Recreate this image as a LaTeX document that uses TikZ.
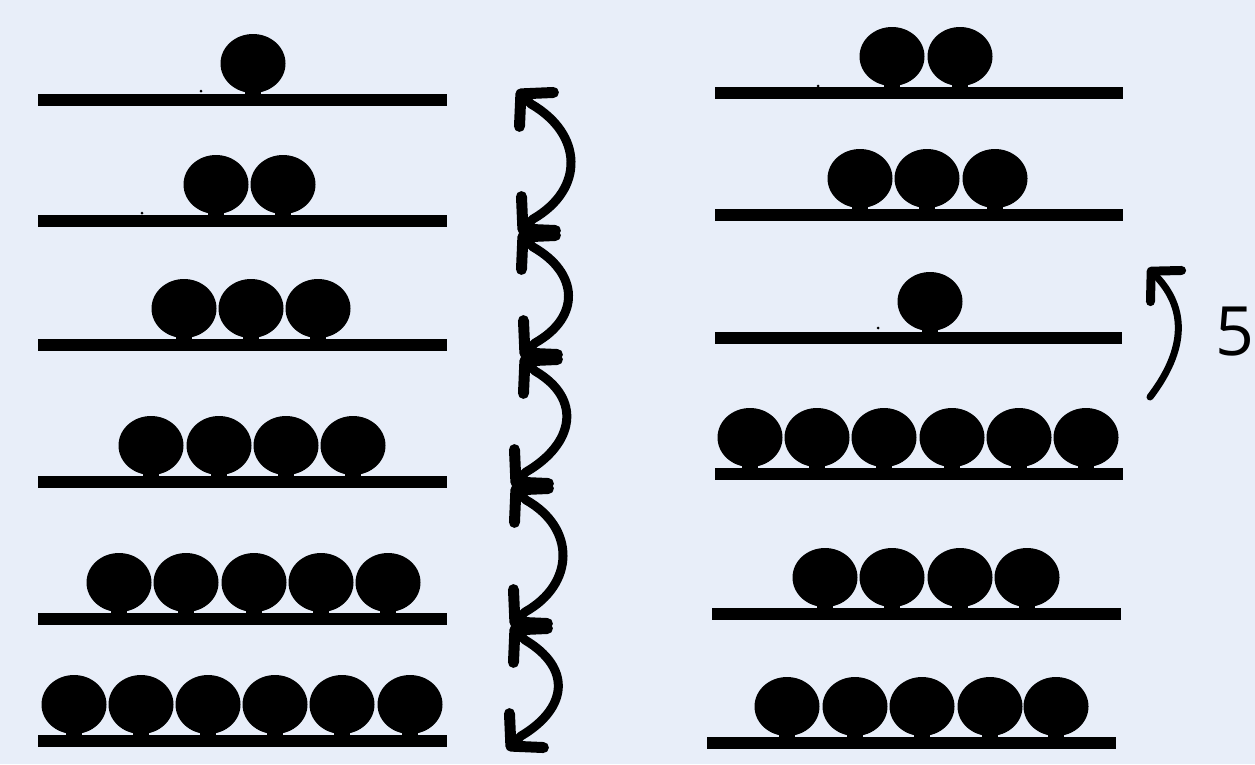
\documentclass[tikz,border=0pt]{standalone}
\usepackage{fontspec}
\newfontfamily\labelfont{Open Sans}
\usetikzlibrary{arrows.meta}
\definecolor{bg}{RGB}{232,238,249}
\begin{document}
\begin{tikzpicture}[x=1pt,y=-1pt,
  shelfbar/.style={fill=black},
  ballshape/.style={fill=black},
  speck/.style={fill=black},
  barb/.tip={Straight Barb[length=22pt,width=48pt,line width=11pt 0,round]},
  smallbarb/.tip={Straight Barb[length=21pt,width=44pt,line width=9pt 0,round]},
  swing/.style={line width=9pt,line cap=round,line join=round,barb-barb},
  turn/.style={line width=7pt,line cap=round,-smallbarb},
  numlabel/.style={font=\labelfont\fontsize{68}{68}\selectfont,inner sep=0pt}]
\fill[bg] (0,0) rectangle (1255,764);
\useasboundingbox (0,0) rectangle (1255,764);
% left column
\foreach \yy/\bl in {100/{253},221/{216,283},345/{184,251,318},482/{151,219,286,353},619/{119,186,254,321,388},741/{74,141,208,275,342,410}}{
  \fill[shelfbar] (38,\yy-6) rectangle (447,\yy+6);
  \foreach \xx in \bl {
    \fill[ballshape] (\xx,\yy-36.5) ellipse [x radius=32.5pt, y radius=29.5pt];
    \fill[ballshape] (\xx-8,\yy-10) rectangle (\xx+8,\yy);
  }
}
% right column
\foreach \yy/\xa/\xb/\bl in {93/715/1123/{892,960},215/715/1123/{860,927,995},338/715/1122/{930},474/715/1123/{750,817,884,952,1019,1086},614/712/1121/{825,892,960,1027},743/707/1116/{787,855,922,990,1056}}{
  \fill[shelfbar] (\xa,\yy-6) rectangle (\xb,\yy+6);
  \foreach \xx in \bl {
    \fill[ballshape] (\xx,\yy-36.5) ellipse [x radius=32.5pt, y radius=29.5pt];
    \fill[ballshape] (\xx-8,\yy-10) rectangle (\xx+8,\yy);
  }
}
% specks
\fill[speck] (201,91) circle [radius=1.5pt];
\fill[speck] (142,213) circle [radius=1.5pt];
\fill[speck] (818,86) circle [radius=1.5pt];
\fill[speck] (878,328) circle [radius=1.5pt];
% swing arrows
\coordinate (P0) at (517,90);
\coordinate (P1) at (519,233);
\coordinate (P2) at (521,357);
\coordinate (P3) at (512,486);
\coordinate (P4) at (511,626);
\coordinate (P5) at (507,750);
\draw[swing] (P0) -- ++(14,14) .. controls +(52,30) and +(52,-30) .. ([shift={(14,-14)}]P1) -- (P1);
\draw[swing] (P1) -- ++(14,14) .. controls +(46,26) and +(46,-26) .. ([shift={(14,-14)}]P2) -- (P2);
\draw[swing] (P2) -- ++(14,14) .. controls +(48,28) and +(48,-28) .. ([shift={(14,-14)}]P3) -- (P3);
\draw[swing] (P3) -- ++(14,14) .. controls +(50,28) and +(50,-28) .. ([shift={(14,-14)}]P4) -- (P4);
\draw[swing] (P4) -- ++(14,14) .. controls +(47,28) and +(47,-28) .. ([shift={(14,-14)}]P5) -- (P5);
% right arrow and label
\coordinate (Q0) at (1150,397);
\coordinate (Q1) at (1148,268);
\draw[turn] (Q0) .. controls +(42,-55) and +(34,34) .. (Q1);
\node[numlabel] (five) at (1235,332) {5};
\end{tikzpicture}
\end{document}
